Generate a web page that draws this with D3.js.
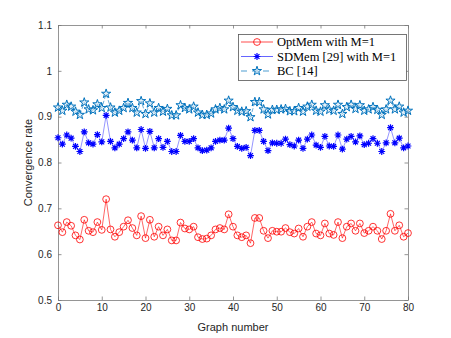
<!DOCTYPE html>
<html><head><meta charset="utf-8">
<script src="https://cdn.jsdelivr.net/npm/d3@7"></script>
<style>html,body{margin:0;padding:0;background:#fff;}svg{display:block;}</style>
</head><body>
<svg id="c" width="451" height="338"></svg>
<script>
const graphs = d3.range(0, 81);
const optMem = [0.663,0.648,0.670,0.662,0.641,0.632,0.675,0.651,0.648,0.670,0.653,0.720,0.654,0.638,0.648,0.660,0.674,0.657,0.641,0.683,0.635,0.675,0.638,0.660,0.641,0.654,0.630,0.630,0.669,0.656,0.654,0.660,0.637,0.633,0.634,0.641,0.654,0.657,0.654,0.687,0.660,0.641,0.637,0.641,0.624,0.679,0.679,0.651,0.635,0.651,0.649,0.649,0.657,0.648,0.645,0.656,0.638,0.660,0.670,0.645,0.641,0.667,0.645,0.642,0.670,0.635,0.660,0.667,0.651,0.667,0.646,0.651,0.660,0.651,0.633,0.651,0.688,0.651,0.663,0.638,0.646];
const sdMem = [0.854,0.840,0.860,0.853,0.835,0.824,0.867,0.843,0.840,0.861,0.845,0.903,0.846,0.832,0.840,0.852,0.867,0.849,0.832,0.872,0.831,0.868,0.832,0.852,0.833,0.846,0.824,0.824,0.859,0.846,0.846,0.852,0.832,0.826,0.827,0.832,0.846,0.849,0.849,0.875,0.852,0.835,0.831,0.833,0.815,0.870,0.870,0.846,0.826,0.843,0.842,0.842,0.851,0.839,0.836,0.849,0.831,0.851,0.860,0.838,0.833,0.857,0.836,0.835,0.860,0.829,0.851,0.857,0.845,0.858,0.839,0.842,0.852,0.842,0.824,0.843,0.876,0.843,0.853,0.832,0.836];
const bc = [0.920,0.913,0.926,0.922,0.911,0.904,0.931,0.916,0.914,0.927,0.919,0.950,0.920,0.909,0.913,0.919,0.930,0.919,0.909,0.934,0.906,0.929,0.909,0.919,0.911,0.917,0.903,0.903,0.925,0.919,0.916,0.922,0.909,0.904,0.904,0.907,0.916,0.919,0.916,0.935,0.921,0.913,0.911,0.912,0.899,0.932,0.932,0.916,0.905,0.915,0.915,0.916,0.917,0.912,0.912,0.919,0.911,0.922,0.926,0.913,0.911,0.925,0.915,0.913,0.926,0.906,0.921,0.926,0.917,0.925,0.913,0.916,0.921,0.915,0.904,0.916,0.935,0.916,0.922,0.909,0.913];
const xTicks = [0,10,20,30,40,50,60,70,80];
const yTicks = [0.5,0.6,0.7,0.8,0.9,1,1.1];
const seriesNames = ["OptMem with M=1","SDMem [29] with M=1","BC [14]"];

const svg = d3.select("#c");
const L=58, R=408, T=25, B=300;
const x = d3.scaleLinear().domain([0,80]).range([L,R]);
const y = d3.scaleLinear().domain([0.5,1.1]).range([B,T]);
const axisCol = "#7a7a7a", txtCol = "#262626";

const gx = svg.append("g").attr("transform",`translate(0,${B})`)
  .call(d3.axisBottom(x).tickValues(xTicks).tickFormat(d3.format("d")).tickSizeInner(-3.5).tickSizeOuter(0).tickPadding(8));
const gxt = svg.append("g").attr("transform",`translate(0,${T})`)
  .call(d3.axisTop(x).tickValues(xTicks).tickFormat("").tickSizeInner(-3.5).tickSizeOuter(0));
const gy = svg.append("g").attr("transform",`translate(${L},0)`)
  .call(d3.axisLeft(y).tickValues(yTicks).tickFormat(d=>String(d)).tickSizeInner(-3.5).tickSizeOuter(0).tickPadding(6));
const gyr = svg.append("g").attr("transform",`translate(${R},0)`)
  .call(d3.axisRight(y).tickValues(yTicks).tickFormat("").tickSizeInner(-3.5).tickSizeOuter(0));
[gx,gxt,gy,gyr].forEach(g=>{
  g.selectAll("path,line").attr("stroke",axisCol).attr("stroke-width",0.8);
  g.selectAll("text").attr("fill",txtCol).style("font-family","'Liberation Sans',Arial,sans-serif").style("font-size","10px");
});
gx.selectAll("text").attr("dy","0.3em");

svg.append("text").attr("x",(L+R)/2).attr("y",331).attr("text-anchor","middle")
  .attr("fill",txtCol).style("font-family","'Liberation Sans',Arial,sans-serif").style("font-size","11px").text("Graph number");
svg.append("text").attr("transform",`translate(32,${(T+B)/2}) rotate(-90)`).attr("text-anchor","middle")
  .attr("fill",txtCol).style("font-family","'Liberation Sans',Arial,sans-serif").style("font-size","11px").text("Convergence rate");

const colors = ["#ff0000","#0000ff","#0072bd"];
const line = d3.line().x((d,i)=>x(graphs[i])).y(d=>y(d));

function starPath(cx,cy,r){
  const ri=r*0.382; let p=[];
  for(let k=0;k<10;k++){const a=-Math.PI/2+k*Math.PI/5; const rr=k%2?ri:r; p.push([cx+rr*Math.cos(a),cy+rr*Math.sin(a)]);}
  return "M"+p.map(q=>q.join(",")).join("L")+"Z";
}
function astPath(cx,cy,r){
  const d=r*0.72;
  return `M${cx-r},${cy}L${cx+r},${cy}M${cx},${cy-r}L${cx},${cy+r}M${cx-d},${cy-d}L${cx+d},${cy+d}M${cx-d},${cy+d}L${cx+d},${cy-d}`;
}

const plot = svg.append("g");
plot.append("path").datum(optMem).attr("d",line).attr("fill","none").attr("stroke",colors[0]).attr("stroke-width",0.6);
plot.selectAll("circle.o").data(optMem).join("circle").attr("class","o")
  .attr("cx",(d,i)=>x(graphs[i])).attr("cy",d=>y(d)).attr("r",3.4)
  .attr("fill","none").attr("stroke",colors[0]).attr("stroke-width",0.8);
plot.append("path").datum(sdMem).attr("d",line).attr("fill","none").attr("stroke",colors[1]).attr("stroke-opacity",0.6).attr("stroke-width",0.7);
plot.selectAll("path.a").data(sdMem).join("path").attr("class","a")
  .attr("d",(d,i)=>astPath(x(graphs[i]),y(d),3.4)).attr("fill","none").attr("stroke",colors[1]).attr("stroke-width",1.2);
plot.append("path").datum(bc).attr("d",line).attr("fill","none").attr("stroke",colors[2]).attr("stroke-width",0.6).attr("stroke-dasharray","4,2");
plot.selectAll("path.s").data(bc).join("path").attr("class","s")
  .attr("d",(d,i)=>starPath(x(graphs[i]),y(d),4.8)).attr("fill","#cfe3f2").attr("fill-opacity",0.5).attr("stroke",colors[2]).attr("stroke-width",1);

const lg = svg.append("g");
lg.append("rect").attr("x",238.5).attr("y",34.5).attr("width",168).attr("height",46)
  .attr("fill","#fff").attr("stroke","#555").attr("stroke-width",0.8);
const rows=[42,56.5,71];
seriesNames.forEach((n,k)=>{
  const yy=rows[k];
  lg.append("line").attr("x1",241).attr("x2",273).attr("y1",yy).attr("y2",yy)
    .attr("stroke",colors[k]).attr("stroke-width",k==1?1:0.7).attr("stroke-opacity",k==1?0.6:1)
    .attr("stroke-dasharray",k==2?"6,5":null);
  if(k==0) lg.append("circle").attr("cx",257).attr("cy",yy).attr("r",3.4).attr("fill","none").attr("stroke",colors[0]).attr("stroke-width",0.8);
  if(k==1) lg.append("path").attr("d",astPath(257,yy,3.4)).attr("fill","none").attr("stroke",colors[1]).attr("stroke-width",1.2);
  if(k==2) lg.append("path").attr("d",starPath(257,yy,4.8)).attr("fill","#cfe3f2").attr("fill-opacity",0.5).attr("stroke",colors[2]).attr("stroke-width",1);
  lg.append("text").attr("x",277).attr("y",yy).attr("dy","0.35em").attr("fill","#000")
    .style("font-family","'Liberation Serif','Times New Roman',serif").style("font-size","12.5px").text(n);
});
</script>
</body></html>
